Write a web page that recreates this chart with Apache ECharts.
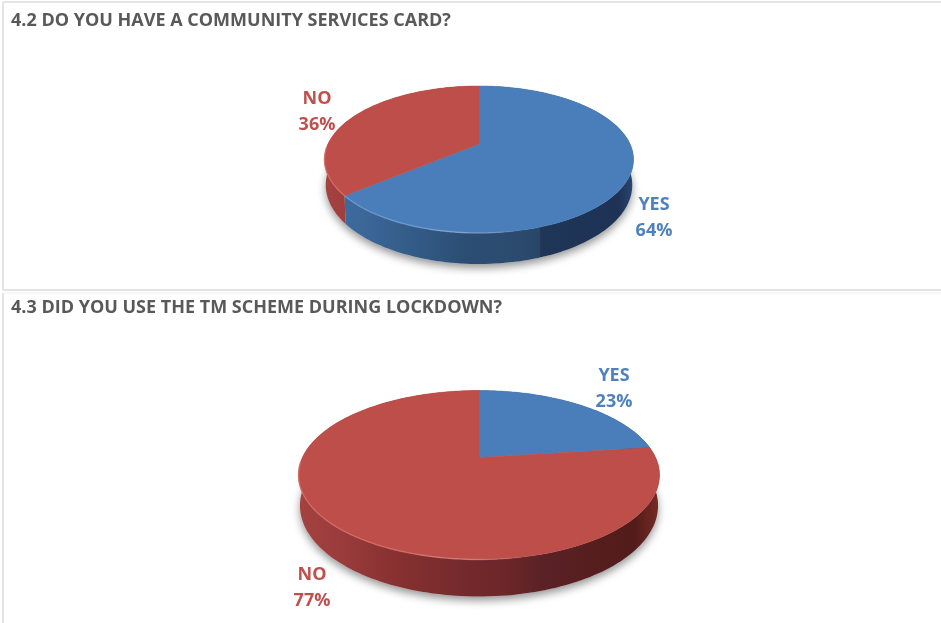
<!DOCTYPE html>
<html>
<head>
<meta charset="utf-8">
<title>Community services card and TM scheme</title>
<style>html,body{margin:0;padding:0;background:#fff}#chart{width:941px;height:623px}</style>
<script src="https://cdn.jsdelivr.net/npm/echarts@6/dist/echarts.min.js"></script>
</head>
<body>
<div id="chart"></div>
<script>
// Survey answers, in clockwise order starting from twelve o'clock
const cardTitle = '4.2 DO YOU HAVE A COMMUNITY SERVICES CARD?';
const cardCategories = ['YES', 'NO'];
const cardValues = [64, 36];

const schemeTitle = '4.3 DID YOU USE THE TM SCHEME DURING LOCKDOWN?';
const schemeCategories = ['YES', 'NO'];
const schemeValues = [23, 77];

// Palette per answer: top face, text, lit rim and the banded shading of the wall
const answerStyle = {
  YES: {
    face: '#4a7ebb', text: '#4f81bd', rim: '#6f9bd0',
    wall: [[0, '#3f6fa6'], [0.15, '#3a6596'], [0.3, '#335a86'], [0.45, '#2c4e74'], [0.62, '#2b4a6e'],
           [0.695, '#2a4769'], [0.7, '#1f3659'], [0.95, '#1d3254'], [1, '#2a4670']]
  },
  NO: {
    face: '#bd4e49', text: '#c0504d', rim: '#d66f69',
    wall: [[0, '#a44240'], [0.12, '#9a3b3c'], [0.28, '#86302f'], [0.45, '#752a2d'], [0.58, '#6c2629'],
           [0.68, '#5a2226'], [0.78, '#571f1f'], [0.93, '#521c1a'], [1, '#7a2b25']]
  }
};

// Scene geometry of each tilted pie: hub, half width of the rim, reach towards
// the back and front, wall depth, and where each answer's label sits
const cardScene = {
  hubX: 479, hubY: 144, halfWidth: 154.5, back: 58, front: 89, wallFront: 31,
  labels: { YES: [654, 218], NO: [317, 112] }
};
const schemeScene = {
  hubX: 479, hubY: 457.5, halfWidth: 180.5, back: 67, front: 102, wallFront: 37,
  labels: { YES: [614, 389], NO: [312, 588] }
};

// Projects a share of the whole (0..1, clockwise from the top) onto the tilted disc
function projector(scene) {
  const k = (scene.front - scene.back) / (scene.front + scene.back);
  const a = scene.back * (1 + k);
  const b = scene.halfWidth * Math.sqrt(1 - k * k);
  const d = scene.wallFront * (1 - k);
  return function (share, onBase) {
    const t = share * Math.PI * 2;
    const u = Math.sin(t), v = Math.cos(t);
    const w = 1 + k * v;
    const x = b * u / w, y = -a * v / w;
    return onBase
      ? [scene.hubX + x * 0.992, scene.hubY + y + d / w]
      : [scene.hubX + x, scene.hubY + y];
  };
}

function arcPoints(project, from, to, onBase) {
  const steps = Math.max(2, Math.ceil((to - from) * 240));
  const pts = [];
  for (let i = 0; i <= steps; i++) pts.push(project(from + (to - from) * i / steps, onBase));
  return pts;
}

function wallGradient(scene, stops) {
  return {
    type: 'linear', global: true,
    x: scene.hubX - scene.halfWidth, y: 0, x2: scene.hubX + scene.halfWidth, y2: 0,
    colorStops: stops.map(function (s) { return { offset: s[0], color: s[1] }; })
  };
}

// The bevel catches the light on the left and fades out past the front of the disc
function bevelGradient(scene, color) {
  return {
    type: 'linear', global: true,
    x: scene.hubX - scene.halfWidth, y: 0, x2: scene.hubX + scene.halfWidth, y2: 0,
    colorStops: [
      { offset: 0, color: color },
      { offset: 0.3, color: color },
      { offset: 0.62, color: 'rgba(255,255,255,0)' },
      { offset: 1, color: 'rgba(255,255,255,0)' }
    ]
  };
}

function pieSeries(scene, categories, values) {
  const total = values.reduce(function (sum, v) { return sum + v; }, 0);
  let running = 0;
  const rows = values.map(function (v, i) {
    const row = [running / total, (running + v) / total, v, i];
    running += v;
    return row;
  });
  const project = projector(scene);

  return {
    type: 'custom',
    coordinateSystem: 'none',
    silent: true,
    data: rows,
    renderItem: function (params, api) {
      const from = api.value(0), to = api.value(1), value = api.value(2);
      const name = categories[api.value(3)];
      const style = answerStyle[name];
      const rim = arcPoints(project, from, to, false);
      const base = arcPoints(project, from, to, true);
      const children = [];

      if (params.dataIndex === 0) {
        // Soft contact shadow under the whole disc
        children.push({
          type: 'polygon', z2: 0,
          shape: { points: arcPoints(project, 0, 1, true) },
          style: { fill: '#d8d8d8', shadowColor: 'rgba(0,0,0,0.42)', shadowBlur: 9, shadowOffsetY: 4 }
        });
      }
      children.push({
        type: 'polygon', z2: 1,
        shape: { points: rim.concat(base.slice().reverse()) },
        style: { fill: wallGradient(scene, style.wall), stroke: null }
      });
      children.push({
        type: 'polygon', z2: 2,
        shape: { points: [[scene.hubX, scene.hubY]].concat(rim) },
        style: { fill: style.face, stroke: style.face, lineWidth: 0.5 }
      });

      // Lit bevel along the front of the rim
      const lit = rim.filter(function (p) { return p[1] > scene.hubY + scene.back * 0.05; });
      if (lit.length > 1) {
        children.push({
          type: 'polyline', z2: 3,
          shape: { points: lit },
          style: { fill: null, stroke: bevelGradient(scene, style.rim), lineWidth: 1.4, opacity: 0.8 }
        });
      }
      const anchor = scene.labels[name];
      children.push({
        type: 'text', z2: 4,
        x: anchor[0], y: anchor[1],
        style: {
          text: name + '\n' + value + '%',
          fill: style.text,
          font: 'bold 18px "Open Sans", sans-serif',
          lineHeight: 26,
          align: 'center',
          verticalAlign: 'middle'
        }
      });
      return { type: 'group', children: children };
    }
  };
}

const titleText = { color: '#595959', fontFamily: 'Open Sans', fontWeight: 'bold', fontSize: 18 };
const panelLine = { stroke: '#e4e4e4', lineWidth: 2 };

const chart = echarts.init(document.getElementById('chart'), null, { renderer: 'canvas' });
chart.setOption({
  animation: false,
  backgroundColor: '#ffffff',
  title: [
    { text: cardTitle, left: 11, top: 12, padding: 0, textStyle: titleText },
    { text: schemeTitle, left: 11, top: 299, padding: 0, textStyle: titleText }
  ],
  graphic: [
    { type: 'line', shape: { x1: 3, y1: 2, x2: 941, y2: 2 }, style: panelLine },
    { type: 'line', shape: { x1: 3, y1: 2, x2: 3, y2: 290 }, style: panelLine },
    { type: 'line', shape: { x1: 3, y1: 290, x2: 941, y2: 290 }, style: panelLine },
    { type: 'line', shape: { x1: 3, y1: 293, x2: 3, y2: 623 }, style: panelLine },
    { type: 'line', shape: { x1: 3, y1: 293, x2: 941, y2: 293 }, style: { stroke: '#efefef', lineWidth: 1 } }
  ],
  series: [
    pieSeries(cardScene, cardCategories, cardValues),
    pieSeries(schemeScene, schemeCategories, schemeValues)
  ]
});
</script>
</body>
</html>
